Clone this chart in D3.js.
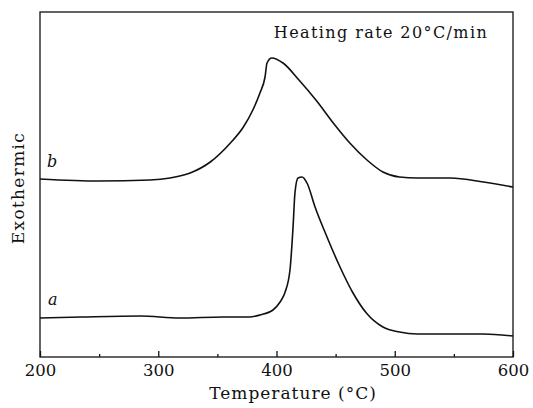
<!DOCTYPE html>
<html>
<head>
<meta charset="utf-8">
<script src="https://cdn.jsdelivr.net/npm/d3@7"></script>
<style>
  body { margin: 0; background: #fff; }
  text { font-family: "DejaVu Serif", "Liberation Serif", serif; fill: #111; }
</style>
</head>
<body>
<script>
// DSC traces (temperature in °C, signal in arbitrary units)
const tempA = [200, 235, 285, 318, 355, 377, 386, 397, 403, 407, 411.4, 414, 415.6, 418.2, 421.6, 425.8, 432.6, 442.7, 453.7, 464.7, 476, 490, 504, 519, 547, 575, 600]
const heatA = [39, 40, 41, 39, 40, 40, 42, 47, 55, 64, 87, 130, 164, 179, 180, 174, 150, 120, 90, 64, 44, 30, 25, 23, 23, 23, 21]

const tempB = [200, 250, 293, 310, 327, 344, 361, 372, 380, 386, 390.3, 392, 396, 405.5, 419, 434, 448, 462, 476.5, 490, 504, 519, 547, 575, 600]
const heatB = [178, 176, 177, 179, 184, 195, 214, 230, 247, 264, 280, 294, 299, 294, 277, 256, 234, 214, 197, 185, 180, 179, 179, 175, 170]

const xTicks = [200, 300, 400, 500, 600]
const xMinor = [250, 350, 450, 550]

const width = 533
const height = 408
const margin = { top: 12, right: 20, bottom: 51, left: 40 }

const svg = d3.select('body').append('svg')
  .attr('width', width)
  .attr('height', height)

const x = d3.scaleLinear()
  .domain([200, 600])
  .range([margin.left, width - margin.right])

const y = d3.scaleLinear()
  .domain([0, 345])
  .range([height - margin.bottom, margin.top])

// frame
svg.append('rect')
  .attr('x', x(200))
  .attr('y', y(345))
  .attr('width', x(600) - x(200))
  .attr('height', y(0) - y(345))
  .attr('fill', 'none')
  .attr('stroke', '#111')
  .attr('stroke-width', 1.3)

// bottom axis, ticks pointing inward
const xAxis = svg.append('g')
  .attr('transform', `translate(0,${y(0)})`)
  .call(d3.axisBottom(x).tickValues(xTicks).tickSize(-6).tickPadding(7))
xAxis.select('.domain').remove()
xAxis.selectAll('text').style('font-size', '16.5px')
xAxis.selectAll('line').attr('stroke', '#111').attr('stroke-width', 1.3)

svg.append('g')
  .attr('transform', `translate(0,${y(0)})`)
  .call(d3.axisBottom(x).tickValues(xMinor).tickSize(-3).tickFormat(''))
  .call(g => g.select('.domain').remove())
  .selectAll('line').attr('stroke', '#111').attr('stroke-width', 1.3)

const line = d3.line()
  .x(d => x(d[0]))
  .y(d => y(d[1]))
  .curve(d3.curveMonotoneX)

svg.append('path')
  .attr('d', line(d3.zip(tempA, heatA)))
  .attr('fill', 'none')
  .attr('stroke', '#111')
  .attr('stroke-width', 1.6)

svg.append('path')
  .attr('d', line(d3.zip(tempB, heatB)))
  .attr('fill', 'none')
  .attr('stroke', '#111')
  .attr('stroke-width', 1.6)

// curve labels
svg.append('text')
  .attr('x', 47).attr('y', 167)
  .style('font-size', '16px').style('font-style', 'italic')
  .text('b')
svg.append('text')
  .attr('x', 48).attr('y', 305)
  .style('font-size', '16px').style('font-style', 'italic')
  .text('a')

svg.append('text')
  .attr('x', 381).attr('y', 38)
  .attr('text-anchor', 'middle')
  .style('font-size', '16px')
  .style('letter-spacing', '1.4px')
  .text('Heating rate 20°C/min')

svg.append('text')
  .attr('x', 293).attr('y', 399)
  .attr('text-anchor', 'middle')
  .style('font-size', '17px')
  .style('letter-spacing', '1px')
  .text('Temperature (°C)')

svg.append('text')
  .attr('transform', 'translate(24,188) rotate(-90)')
  .attr('text-anchor', 'middle')
  .style('font-size', '17px')
  .style('letter-spacing', '1.3px')
  .text('Exothermic')
</script>
</body>
</html>
